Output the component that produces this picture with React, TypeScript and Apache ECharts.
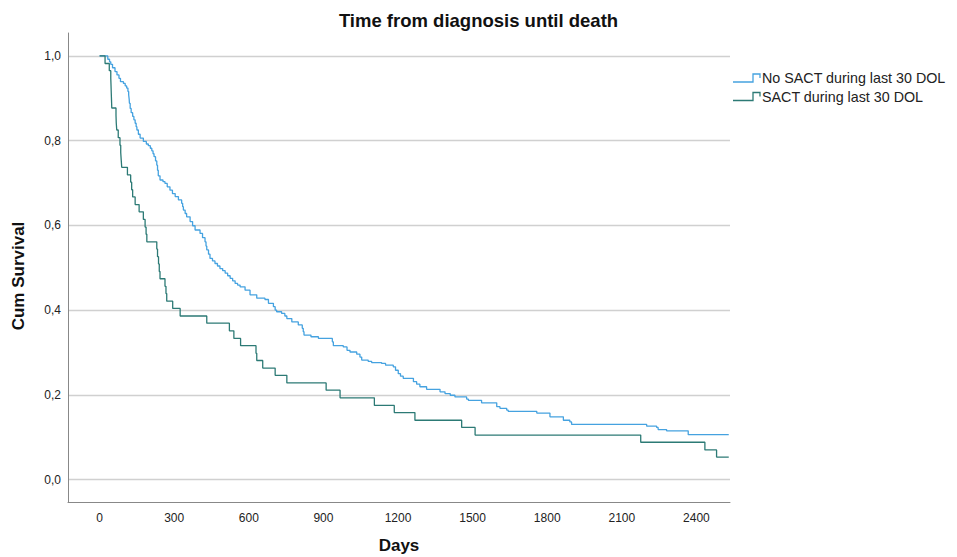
import React, { useEffect, useRef } from "react";
import * as echarts from "echarts";

const chartTitle = "Time from diagnosis until death";
const xAxisName = "Days";
const yAxisName = "Cum Survival";
const seriesNames = ["No SACT during last 30 DOL", "SACT during last 30 DOL"];

const xTicks = [0, 300, 600, 900, 1200, 1500, 1800, 2100, 2400];
const yTicks = [0, 0.2, 0.4, 0.6, 0.8, 1.0];

const noSactDays = [0, 33, 40, 45, 52, 62, 70, 78, 84, 96, 103, 109, 114, 117, 119, 120, 123, 127, 133, 138, 143, 147, 150, 156, 163, 176, 188, 196, 204, 210, 215, 219, 225, 230, 233, 236, 243, 255, 263, 272, 283, 293, 304, 317, 330, 334, 337, 344, 350, 364, 374, 384, 404, 414, 424, 428, 431, 438, 444, 454, 464, 474, 484, 495, 505, 515, 525, 535, 545, 555, 565, 585, 605, 632, 665, 679, 699, 706, 712, 732, 745, 753, 773, 799, 815, 819, 822, 850, 880, 936, 940, 980, 995, 1007, 1034, 1047, 1054, 1080, 1094, 1134, 1150, 1181, 1190, 1201, 1210, 1221, 1262, 1275, 1288, 1315, 1369, 1389, 1410, 1429, 1476, 1483, 1536, 1597, 1610, 1637, 1643, 1758, 1811, 1865, 1891, 1898, 2200, 2240, 2246, 2280, 2367, 2530];
const noSactSurvival = [1.0, 0.992, 0.986, 0.98, 0.972, 0.963, 0.955, 0.947, 0.939, 0.935, 0.929, 0.924, 0.916, 0.908, 0.898, 0.888, 0.876, 0.866, 0.857, 0.849, 0.841, 0.833, 0.825, 0.815, 0.806, 0.798, 0.792, 0.788, 0.782, 0.776, 0.769, 0.762, 0.752, 0.742, 0.73, 0.717, 0.707, 0.703, 0.699, 0.691, 0.683, 0.675, 0.668, 0.66, 0.652, 0.644, 0.636, 0.628, 0.62, 0.609, 0.599, 0.589, 0.581, 0.571, 0.561, 0.551, 0.542, 0.532, 0.522, 0.516, 0.51, 0.504, 0.498, 0.493, 0.487, 0.481, 0.475, 0.469, 0.463, 0.459, 0.455, 0.447, 0.436, 0.428, 0.425, 0.416, 0.408, 0.4, 0.396, 0.392, 0.386, 0.38, 0.372, 0.365, 0.357, 0.349, 0.341, 0.337, 0.333, 0.325, 0.316, 0.313, 0.305, 0.301, 0.296, 0.289, 0.282, 0.279, 0.276, 0.274, 0.27, 0.266, 0.258, 0.25, 0.244, 0.239, 0.231, 0.225, 0.219, 0.213, 0.207, 0.203, 0.199, 0.195, 0.19, 0.187, 0.181, 0.172, 0.168, 0.164, 0.161, 0.157, 0.148, 0.14, 0.136, 0.13, 0.126, 0.123, 0.118, 0.115, 0.106, 0.106];

const sactDays = [0, 22, 39, 45, 46, 47, 48, 49, 66, 67, 69, 75, 82, 85, 87, 89, 112, 125, 129, 133, 143, 159, 176, 183, 187, 190, 230, 233, 237, 240, 243, 263, 267, 270, 294, 324, 431, 522, 540, 567, 629, 632, 656, 706, 753, 911, 967, 1105, 1185, 1268, 1456, 1510, 2176, 2434, 2481, 2530];
const sactSurvival = [1.0, 0.982, 0.965, 0.947, 0.93, 0.912, 0.895, 0.877, 0.86, 0.842, 0.825, 0.807, 0.789, 0.772, 0.754, 0.737, 0.719, 0.702, 0.684, 0.667, 0.649, 0.632, 0.614, 0.596, 0.579, 0.561, 0.544, 0.526, 0.509, 0.491, 0.474, 0.456, 0.439, 0.421, 0.404, 0.386, 0.369, 0.351, 0.333, 0.316, 0.298, 0.281, 0.263, 0.246, 0.228, 0.211, 0.193, 0.175, 0.158, 0.14, 0.123, 0.105, 0.088, 0.07, 0.053, 0.053];

const BLUE = "#45a2e0";
const TEAL = "#2c7a75";
const FONT = "Liberation Sans, Arial, sans-serif";

const zip = (xs: number[], ys: number[]) => xs.map((x, i) => [x, ys[i]]);

export default function App() {
  const ref = useRef<HTMLDivElement>(null);
  useEffect(() => {
    if (!ref.current) return;
    const chart = echarts.init(ref.current, null, { renderer: "svg" });
    chart.setOption({
      animation: false,
      backgroundColor: "#ffffff",
      textStyle: { fontFamily: FONT },
      title: {
        text: chartTitle,
        left: "center",
        top: 11,
        padding: 0,
        textStyle: { fontFamily: FONT, fontSize: 18.5, fontWeight: "bold", color: "#111" },
      },
      grid: { left: 68, right: 227, top: 33, bottom: 55, containLabel: false },
      xAxis: {
        type: "value",
        min: -127,
        max: 2535,
        axisLine: { onZero: false, lineStyle: { color: "#888", width: 1 } },
        axisTick: { show: false },
        splitLine: { show: false },
        axisLabel: {
          customValues: xTicks,
          fontSize: 12,
          color: "#222",
          margin: 10,
          fontFamily: FONT,
          formatter: (v: number) => String(v),
        },
      },
      yAxis: {
        type: "value",
        min: -0.053,
        max: 1.054,
        axisLine: { show: true, onZero: false, lineStyle: { color: "#888", width: 1 } },
        axisTick: { show: false, customValues: yTicks },
        splitLine: { show: true, lineStyle: { color: "#d0d0d0", width: 1.3 } },
        axisLabel: {
          customValues: yTicks,
          fontSize: 12,
          color: "#222",
          margin: 7,
          fontFamily: FONT,
          formatter: (v: number) => v.toFixed(1).replace(".", ","),
        },
      },
      series: [
        {
          name: seriesNames[0],
          type: "line",
          step: "end",
          data: zip(noSactDays, noSactSurvival),
          symbol: "none",
          lineStyle: { color: BLUE, width: 1.3 },
          itemStyle: { color: BLUE },
          z: 3,
        },
        {
          name: seriesNames[1],
          type: "line",
          step: "end",
          data: zip(sactDays, sactSurvival),
          symbol: "none",
          lineStyle: { color: TEAL, width: 1.3 },
          itemStyle: { color: TEAL },
          z: 4,
        },
      ],
      graphic: [
        {
          type: "text",
          x: 18,
          y: 276,
          rotation: Math.PI / 2,
          style: {
            text: yAxisName,
            fontFamily: FONT,
            fontSize: 17,
            fontWeight: "bold",
            fill: "#111",
            align: "center",
            verticalAlign: "middle",
          },
        },
        {
          type: "text",
          x: 399,
          y: 545,
          style: {
            text: xAxisName,
            fontFamily: FONT,
            fontSize: 17,
            fontWeight: "bold",
            fill: "#111",
            align: "center",
            verticalAlign: "middle",
          },
        },
        {
          type: "polyline",
          shape: { points: [[733, 82], [753, 82], [753, 74], [760, 74], [760, 78]] },
          style: { stroke: BLUE, fill: null, lineWidth: 1.3 },
        },
        {
          type: "text",
          x: 762,
          y: 78,
          style: { text: seriesNames[0], fontFamily: FONT, fontSize: 14.3, fill: "#222", verticalAlign: "middle" },
        },
        {
          type: "polyline",
          shape: { points: [[733, 100.5], [753, 100.5], [753, 92.5], [760, 92.5], [760, 96.5]] },
          style: { stroke: TEAL, fill: null, lineWidth: 1.3 },
        },
        {
          type: "text",
          x: 762,
          y: 96.5,
          style: { text: seriesNames[1], fontFamily: FONT, fontSize: 14.3, fill: "#222", verticalAlign: "middle" },
        },
      ],
    });
    return () => chart.dispose();
  }, []);
  return (
    <div
      ref={ref}
      style={{ position: "absolute", left: 0, top: 0, width: 957, height: 557, background: "#fff" }}
    />
  );
}
